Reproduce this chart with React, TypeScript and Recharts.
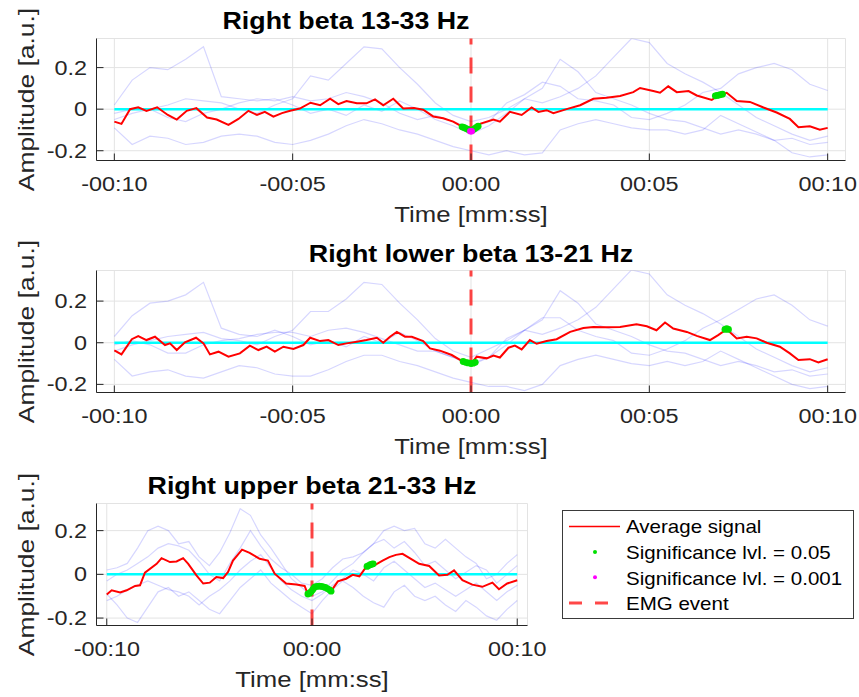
import { ComposedChart, Line, Scatter, XAxis, YAxis, CartesianGrid, ReferenceLine } from 'recharts';

const FONT = "'Liberation Sans', Arial, Helvetica, sans-serif";
const INK = '#262626';
const GRID = '#e3e3e3';

// time grid (s) shared by the single-trial traces
const TRIAL_T = [-10, -9.5, -9, -8.5, -8, -7.5, -7, -6.5, -6, -5.5, -5, -4.5, -4, -3.5, -3, -2.5, -2, -1.5, -1, -0.5, 0,
  0.5, 1, 1.5, 2, 2.5, 3, 3.5, 4, 4.5, 5, 5.5, 6, 6.5, 7, 7.5, 8, 8.5, 9, 9.5, 10];

const ZERO_T = [-10, 10];
const ZERO_V = [0, 0];

const X_TICKS = [-10, -5, 0, 5, 10];
const X_TICK_LABELS = ['-00:10', '-00:05', '00:00', '00:05', '00:10'];
const X_TICKS_SHORT = [-10, 0, 10];
const Y_TICKS = [-0.2, 0, 0.2];
const Y_TICK_LABELS = ['-0.2', '0', '0.2'];

// ---- Right beta 13-33 Hz
const P1_AVG_T = [-10, -9.8, -9.56, -9.33, -9.1, -8.8, -8.5, -8.25, -7.97, -7.7, -7.4, -7.13, -6.8, -6.52, -6.24, -6.0,
  -5.78, -5.54, -5.3, -5.07, -4.8, -4.5, -4.23, -3.95, -3.72, -3.49, -3.2, -2.93, -2.69, -2.46, -2.18, -1.9, -1.6, -1.34,
  -1.06, -0.78, -0.5, -0.26, 0, 0.25, 0.63, 0.81, 1.09, 1.42, 1.7, 1.89, 2.12, 2.31, 2.68, 3.06, 3.43, 3.8, 4.18, 4.55,
  4.74, 5.11, 5.3, 5.53, 5.77, 6.1, 6.33, 6.75, 6.93, 7.17, 7.45, 7.82, 8.2, 8.57, 8.94, 9.18, 9.5, 9.78, 10];
const P1_AVG_V = [-0.06, -0.071, 0, 0.009, -0.008, 0.009, -0.028, -0.05, -0.008, 0.005, -0.04, -0.05, -0.076, -0.047,
  -0.008, -0.028, -0.013, -0.036, -0.019, -0.008, 0.003, 0.031, 0.019, 0.05, 0.024, 0.039, 0.028, 0.028, 0.047, 0.019,
  0.05, 0.003, 0.006, -0.003, -0.035, -0.044, -0.06, -0.083, -0.107, -0.071, -0.05, -0.06, -0.013, -0.028, 0.008, -0.013,
  -0.005, -0.019, 0, 0.019, 0.05, 0.055, 0.063, 0.082, 0.102, 0.087, 0.079, 0.11, 0.082, 0.087, 0.066, 0.044, 0.066,
  0.079, 0.039, 0.035, 0.008, -0.016, -0.047, -0.087, -0.082, -0.099, -0.09];
const P1_TRIALS = [
  [0.02, 0.14, 0.2, 0.19, 0.24, 0.3, 0.06, 0.05, 0.04, 0.05, 0.02, -0.02, 0.0, -0.03, 0.02, -0.01, 0.04, 0.0, -0.05, -0.08,
    -0.12, -0.08, -0.02, 0.05, 0.1, 0.24, 0.18, 0.08, 0.05, 0.02, -0.02, -0.05, -0.06, -0.09, -0.12, -0.1, -0.12, -0.15, -0.14, -0.17, -0.16],
  [-0.05, -0.02, 0.0, 0.02, 0.05, 0.04, 0.03, 0.0, -0.02, 0.02, 0.05, 0.16, 0.14, 0.22, 0.3, 0.29, 0.2, 0.12, 0.03, -0.03,
    -0.06, -0.04, 0.0, 0.05, 0.03, 0.06, 0.1, 0.16, 0.25, 0.34, 0.32, 0.22, 0.17, 0.13, 0.08, 0.02, -0.04, -0.08, -0.12, -0.15, -0.13],
  [-0.09, -0.17, -0.13, -0.14, -0.17, -0.16, -0.13, -0.12, -0.13, -0.16, -0.17, -0.15, -0.12, -0.08, -0.05, -0.07, -0.1, -0.12, -0.15, -0.18,
    -0.2, -0.22, -0.2, -0.22, -0.21, -0.1, -0.07, -0.05, -0.07, -0.09, -0.1, -0.1, -0.12, -0.1, -0.03, -0.07, -0.11, -0.15, -0.21, -0.23, -0.22],
  [-0.02, 0.0, 0.0, -0.04, -0.06, -0.02, 0.0, 0.03, 0.05, 0.04, 0.06, 0.04, 0.05, 0.08, 0.06, 0.03, -0.02, -0.05, -0.03, -0.06,
    -0.09, -0.06, 0.03, 0.07, 0.13, 0.11, 0.05, 0.04, 0.02, -0.04, -0.05, -0.02, 0.02, 0.08, 0.1, 0.17, 0.2, 0.22, 0.19, 0.12, 0.09],
];
const P1_SIG05_T = [-0.25, -0.2, -0.15, -0.1, -0.05, 0.05, 0.1, 0.15, 0.2, 6.85, 6.9, 6.95, 7.0, 7.05];
const P1_SIG05_V = [-0.085, -0.088, -0.092, -0.096, -0.1, -0.1, -0.094, -0.088, -0.082, 0.064, 0.066, 0.068, 0.07, 0.072];
const P1_SIG001_T = [-0.02, 0.02];
const P1_SIG001_V = [-0.106, -0.106];

// ---- Right lower beta 13-21 Hz
const P2_AVG_T = [-10, -9.8, -9.51, -9.33, -9.1, -8.86, -8.58, -8.44, -8.25, -8.02, -7.71, -7.5, -7.32, -7.08, -6.8, -6.48,
  -6.2, -5.96, -5.73, -5.5, -5.26, -4.98, -4.7, -4.51, -4.23, -4.0, -3.72, -3.49, -3.2, -2.93, -2.64, -2.46, -2.27, -2.08,
  -1.85, -1.66, -1.34, -1.15, -0.87, -0.54, -0.26, 0, 0.16, 0.44, 0.63, 0.81, 1.05, 1.23, 1.42, 1.65, 1.84, 2.12, 2.4,
  2.78, 3.15, 3.43, 3.8, 4.18, 4.64, 4.93, 5.2, 5.44, 5.67, 6.05, 6.33, 6.7, 6.93, 7.17, 7.45, 7.73, 8.01, 8.29, 8.66,
  8.94, 9.18, 9.5, 9.74, 10];
const P2_AVG_V = [-0.037, -0.056, 0.017, 0.032, 0.013, 0.029, -0.011, -0.003, -0.035, 0.002, 0.024, -0.003, -0.056, -0.043,
  -0.067, -0.051, -0.014, -0.035, -0.019, -0.043, -0.019, -0.03, -0.011, 0.024, 0.008, 0.013, -0.011, -0.003, 0.005, 0.013,
  0.024, 0, 0.029, 0.052, 0.029, 0.029, 0.008, -0.027, -0.038, -0.059, -0.087, -0.103, -0.067, -0.075, -0.062, -0.071,
  -0.024, -0.014, -0.032, 0.013, -0.005, 0.008, 0.017, 0.052, 0.071, 0.076, 0.075, 0.076, 0.089, 0.079, 0.06, 0.097,
  0.068, 0.052, 0.033, 0.013, 0.037, 0.065, 0.021, 0.029, 0.021, 0, -0.019, -0.051, -0.083, -0.079, -0.095, -0.079];
const P2_TRIALS = [
  [0.03, 0.13, 0.19, 0.2, 0.23, 0.29, 0.07, 0.04, 0.03, 0.06, 0.03, -0.01, 0.01, -0.02, 0.03, 0.0, 0.05, 0.01, -0.04, -0.07,
    -0.11, -0.07, -0.01, 0.06, 0.11, 0.25, 0.19, 0.09, 0.06, 0.03, -0.01, -0.04, -0.05, -0.08, -0.11, -0.09, -0.11, -0.14, -0.13, -0.16, -0.15],
  [-0.04, -0.01, 0.01, 0.03, 0.04, 0.05, 0.02, 0.01, -0.01, 0.03, 0.06, 0.15, 0.15, 0.21, 0.29, 0.28, 0.19, 0.11, 0.02, -0.04,
    -0.07, -0.03, 0.01, 0.06, 0.04, 0.07, 0.11, 0.17, 0.26, 0.35, 0.33, 0.23, 0.18, 0.14, 0.09, 0.03, -0.03, -0.07, -0.11, -0.14, -0.12],
  [-0.08, -0.16, -0.14, -0.13, -0.16, -0.17, -0.14, -0.11, -0.12, -0.15, -0.16, -0.16, -0.13, -0.09, -0.06, -0.06, -0.09, -0.11, -0.14, -0.17,
    -0.19, -0.21, -0.21, -0.23, -0.2, -0.11, -0.08, -0.06, -0.08, -0.1, -0.11, -0.09, -0.11, -0.09, -0.04, -0.08, -0.12, -0.16, -0.2, -0.22, -0.21],
  [-0.01, 0.01, -0.01, -0.05, -0.05, -0.01, 0.01, 0.02, 0.04, 0.05, 0.05, 0.03, 0.06, 0.07, 0.05, 0.02, -0.01, -0.04, -0.04, -0.07,
    -0.1, -0.07, 0.02, 0.06, 0.12, 0.12, 0.06, 0.03, 0.01, -0.05, -0.06, -0.03, 0.01, 0.07, 0.11, 0.16, 0.21, 0.23, 0.18, 0.11, 0.08],
];
const P2_SIG05_T = [-0.22, -0.15, -0.08, 0, 0.06, 0.12, 7.12, 7.17, 7.22];
const P2_SIG05_V = [-0.09, -0.094, -0.097, -0.1, -0.098, -0.094, 0.064, 0.068, 0.064];
const P2_SIG001_T: number[] = [];
const P2_SIG001_V: number[] = [];

// ---- Right upper beta 21-33 Hz
const P3_AVG_T = [-10, -9.76, -9.35, -9.03, -8.62, -8.38, -8.14, -7.57, -7.33, -6.92, -6.6, -6.28, -6.03, -5.63, -5.3,
  -4.98, -4.66, -4.33, -4.09, -3.85, -3.41, -3.04, -2.55, -2.15, -1.82, -1.26, -0.77, -0.36, -0.2, 0, 0.12, 0.53, 0.93,
  1.26, 1.66, 1.98, 2.31, 2.63, 3.04, 3.44, 3.77, 4.09, 4.41, 4.82, 5.22, 5.71, 6.19, 6.6, 6.92, 7.33, 7.81, 8.3, 8.79,
  9.11, 9.51, 10];
const P3_AVG_V = [-0.092, -0.073, -0.083, -0.073, -0.053, -0.05, 0.008, 0.048, 0.074, 0.056, 0.059, 0.074, 0.048, -0.005,
  -0.042, -0.038, -0.012, -0.017, 0.011, 0.063, 0.113, 0.098, 0.071, 0.063, 0.003, -0.042, -0.047, -0.053, -0.09, -0.075,
  -0.057, -0.053, -0.077, -0.032, -0.02, -0.002, -0.009, 0.033, 0.041, 0.063, 0.079, 0.089, 0.094, 0.071, 0.048, 0.038,
  -0.005, -0.002, 0.018, -0.027, -0.047, -0.057, -0.038, -0.068, -0.042, -0.027];
const P3_TRIALS = [
  [0.02, 0.03, 0.05, 0.12, 0.2, 0.22, 0.2, 0.14, 0.15, 0.08, 0.04, 0.1, 0.19, 0.3, 0.27, 0.18, 0.12, 0.05, -0.02, -0.06,
    -0.1, -0.08, -0.03, 0.02, 0.05, 0.1, 0.14, 0.2, 0.22, 0.2, 0.21, 0.14, 0.12, 0.16, 0.12, 0.08, 0.05, -0.02, 0.0, 0.05, 0.09],
  [-0.03, 0.0, 0.02, 0.05, 0.08, 0.12, 0.14, 0.13, 0.11, 0.06, 0.0, -0.03, 0.05, 0.12, 0.2, 0.13, 0.07, 0.03, 0.0, -0.04,
    -0.05, -0.02, 0.03, 0.07, 0.08, 0.1, 0.14, 0.16, 0.12, 0.15, 0.1, 0.04, 0.06, 0.02, -0.02, 0.01, 0.04, 0.02, -0.04, 0.0, 0.04],
  [-0.09, -0.14, -0.2, -0.22, -0.15, -0.08, -0.06, -0.1, -0.08, -0.12, -0.16, -0.18, -0.12, -0.06, -0.02, 0.02, -0.04, -0.08, -0.12, -0.15,
    -0.18, -0.12, -0.07, -0.03, -0.06, -0.1, -0.13, -0.15, -0.08, -0.05, -0.1, -0.12, -0.1, -0.14, -0.17, -0.12, -0.15, -0.19, -0.21, -0.16, -0.12],
  [-0.12, -0.1, -0.07, -0.05, -0.03, -0.05, -0.07, -0.08, -0.1, -0.14, -0.1, -0.07, -0.03, 0.02, 0.06, 0.09, 0.03, -0.03, -0.07, -0.1,
    -0.12, -0.09, -0.05, -0.02, 0.02, 0.0, -0.03, 0.03, 0.06, 0.02, -0.02, -0.06, -0.04, -0.07, -0.1, -0.07, -0.04, -0.08, -0.12, -0.08, -0.05],
];
const P3_SIG05_T = [-0.2, -0.12, -0.05, 0.02, 0.08, 0.15, 0.25, 0.35, 0.45, 0.55, 0.65, 0.75, 0.85, 0.93, 2.68, 2.76, 2.84, 2.92, 2.98];
const P3_SIG05_V = [-0.09, -0.086, -0.08, -0.072, -0.064, -0.057, -0.055, -0.054, -0.055, -0.057, -0.06, -0.065, -0.071, -0.077,
  0.036, 0.04, 0.044, 0.047, 0.048];
const P3_SIG001_T: number[] = [];
const P3_SIG001_V: number[] = [];

const TITLES = ['Right beta 13-33 Hz', 'Right lower beta 13-21 Hz', 'Right upper beta 21-33 Hz'];
const LEGEND_LABELS = ['Average signal', 'Significance lvl. = 0.05', 'Significance lvl. = 0.001', 'EMG event'];

const pts = (t: number[], v: number[]) => t.map((x, i) => ({ t: x, v: v[i] }));

const X_DOMAIN: [number, number] = [-10.5, 10.5];

const XTick = (props: any) => {
  const { x, y, payload } = props;
  const label = X_TICK_LABELS[X_TICKS.indexOf(payload.value)];
  return (
    <text transform={`translate(${x},${y}) scale(1.2,1)`} textAnchor="middle" fontSize={19.5} fill={INK} fontFamily={FONT}>
      {label}
    </text>
  );
};

const YTick = (props: any) => {
  const { x, y, payload } = props;
  const label = Y_TICK_LABELS[Y_TICKS.indexOf(payload.value)];
  return (
    <text transform={`translate(${x},${y + 7}) scale(1.2,1)`} textAnchor="end" fontSize={19.5} fill={INK} fontFamily={FONT}>
      {label}
    </text>
  );
};

const greenDot = (p: any) => <circle cx={p.cx} cy={p.cy} r={3.4} fill="#00e000" />;
const magentaDot = (p: any) => <circle cx={p.cx} cy={p.cy} r={3.2} fill="#ff00ff" />;

interface PanelProps {
  top: number;
  rightMargin: number;
  avg: { t: number; v: number }[];
  trials: number[][];
  sig05: { t: number; v: number }[];
  sig001: { t: number; v: number }[];
  yDomain: [number, number];
  xTicks: number[];
}

function Panel({ top, rightMargin, avg, trials, sig05, sig001, yDomain, xTicks }: PanelProps) {
  const zero = pts(ZERO_T, ZERO_V);
  return (
    <div style={{ position: 'absolute', left: 0, top, width: 859, height: 200 }}>
      <ComposedChart width={859} height={200} margin={{ top: 38.5, right: rightMargin, bottom: 9.5, left: 6.5 }}>
        <CartesianGrid stroke={GRID} strokeWidth={1} />
        <XAxis
          dataKey="t"
          type="number"
          domain={X_DOMAIN}
          ticks={xTicks}
          interval={0}
          allowDataOverflow
          height={30}
          tickSize={-7}
          tickMargin={37.5}
          tick={<XTick />}
          axisLine={{ stroke: INK }}
          tickLine={{ stroke: INK }}
        />
        <XAxis
          xAxisId="top"
          orientation="top"
          type="number"
          domain={X_DOMAIN}
          ticks={xTicks}
          interval={0}
          allowDataOverflow
          height={0}
          tickSize={-7}
          tick={false}
          axisLine={{ stroke: INK }}
          tickLine={{ stroke: INK }}
        />
        <YAxis
          type="number"
          domain={yDomain}
          ticks={Y_TICKS}
          interval={0}
          allowDataOverflow
          width={90}
          tickSize={-7}
          tickMargin={16.5}
          tick={<YTick />}
          axisLine={{ stroke: INK }}
          tickLine={{ stroke: INK }}
        />
        <YAxis
          yAxisId="right"
          orientation="right"
          type="number"
          domain={yDomain}
          ticks={Y_TICKS}
          interval={0}
          allowDataOverflow
          width={0}
          tickSize={-7}
          tick={false}
          axisLine={{ stroke: INK }}
          tickLine={{ stroke: INK }}
        />
        {trials.map((vals, i) => (
          <Line
            key={i}
            data={pts(TRIAL_T, vals)}
            dataKey="v"
            type="linear"
            stroke="#0000ff"
            strokeOpacity={0.16}
            strokeWidth={1.2}
            dot={false}
            activeDot={false}
            isAnimationActive={false}
          />
        ))}
        <Line data={zero} dataKey="v" type="linear" stroke="#00ffff" strokeWidth={2.5} dot={false} activeDot={false} isAnimationActive={false} />
        <Line data={avg} dataKey="v" type="linear" stroke="#ff0000" strokeWidth={2} dot={false} activeDot={false} isAnimationActive={false} />
        <ReferenceLine x={0} stroke="#ff0000" strokeOpacity={0.72} strokeWidth={3} strokeDasharray="16 13" />
        <Scatter data={sig05} dataKey="v" shape={greenDot} isAnimationActive={false} />
        <Scatter data={sig001} dataKey="v" shape={magentaDot} isAnimationActive={false} />
      </ComposedChart>
    </div>
  );
}

const TITLE_POS = [
  { x: 346, y: 29.3 },
  { x: 471, y: 261.7 },
  { x: 312, y: 494.3 },
];
const YLABEL_CY = [99.5, 331.5, 564.5];
const XLABEL_POS = [
  { x: 471, y: 221.7 },
  { x: 471, y: 453.7 },
  { x: 312, y: 686.7 },
];

function Overlay() {
  const rowY = [533.3, 559, 584.5, 610];
  return (
    <svg width={859} height={697} style={{ position: 'absolute', left: 0, top: 0, pointerEvents: 'none' }}>
      {TITLES.map((t, i) => (
        <text
          key={t}
          transform={`translate(${TITLE_POS[i].x},${TITLE_POS[i].y}) scale(1.15,1)`}
          textAnchor="middle"
          fontSize={23.3}
          fontWeight="bold"
          fill="#000"
          fontFamily={FONT}
        >
          {t}
        </text>
      ))}
      {YLABEL_CY.map((cy, i) => (
        <text
          key={`yl${i}`}
          transform={`translate(34,${cy}) rotate(-90) scale(1.2,1)`}
          textAnchor="middle"
          fontSize={22}
          fill={INK}
          fontFamily={FONT}
        >
          Amplitude [a.u.]
        </text>
      ))}
      {XLABEL_POS.map((p, i) => (
        <text
          key={`xl${i}`}
          transform={`translate(${p.x},${p.y}) scale(1.17,1)`}
          textAnchor="middle"
          fontSize={22}
          fill={INK}
          fontFamily={FONT}
        >
          Time [mm:ss]
        </text>
      ))}
      <rect x={562.5} y={510.5} width={291} height={108} fill="#fff" stroke="#3a3a3a" strokeWidth={1} />
      <line x1={569} x2={620} y1={526.5} y2={526.5} stroke="#ff0000" strokeWidth={1.5} />
      <circle cx={595} cy={552} r={2} fill="#00e000" />
      <circle cx={595} cy={577.3} r={2} fill="#ff00ff" />
      <line x1={569} x2={609} y1={603} y2={603} stroke="#ff0000" strokeOpacity={0.72} strokeWidth={3} strokeDasharray="13 13" />
      {LEGEND_LABELS.map((l, i) => (
        <text
          key={l}
          transform={`translate(626,${rowY[i]}) scale(1.16,1)`}
          fontSize={17.7}
          fill="#000"
          fontFamily={FONT}
        >
          {l}
        </text>
      ))}
    </svg>
  );
}

export default function App() {
  return (
    <div style={{ position: 'absolute', left: 0, top: 0, width: 859, height: 697, background: '#fff' }}>
      <Panel
        top={0}
        rightMargin={13.5}
        avg={pts(P1_AVG_T, P1_AVG_V)}
        trials={P1_TRIALS}
        sig05={pts(P1_SIG05_T, P1_SIG05_V)}
        sig001={pts(P1_SIG001_T, P1_SIG001_V)}
        yDomain={[-0.247, 0.34]}
        xTicks={X_TICKS}
      />
      <Panel
        top={232}
        rightMargin={13.5}
        avg={pts(P2_AVG_T, P2_AVG_V)}
        trials={P2_TRIALS}
        sig05={pts(P2_SIG05_T, P2_SIG05_V)}
        sig001={pts(P2_SIG001_T, P2_SIG001_V)}
        yDomain={[-0.239, 0.347]}
        xTicks={X_TICKS}
      />
      <Panel
        top={465}
        rightMargin={331.5}
        avg={pts(P3_AVG_T, P3_AVG_V)}
        trials={P3_TRIALS}
        sig05={pts(P3_SIG05_T, P3_SIG05_V)}
        sig001={pts(P3_SIG001_T, P3_SIG001_V)}
        yDomain={[-0.234, 0.324]}
        xTicks={X_TICKS_SHORT}
      />
      <Overlay />
    </div>
  );
}
